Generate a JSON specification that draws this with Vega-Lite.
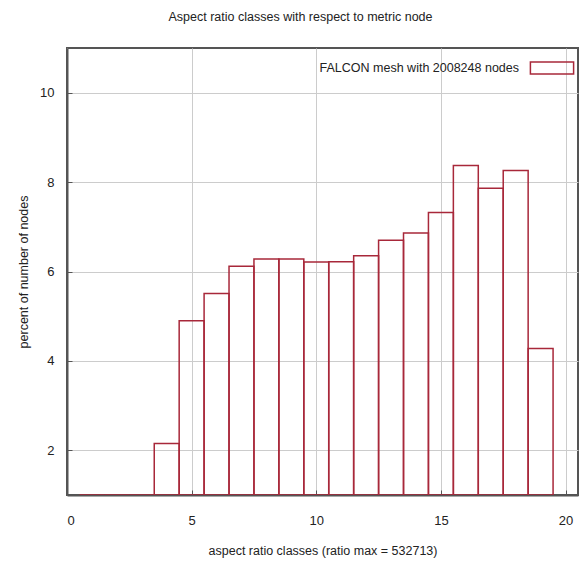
{
  "$schema": "https://vega.github.io/schema/vega-lite/v6.json",
  "width": 511,
  "height": 447,
  "autosize": {"type": "none"},
  "padding": {"left": 67, "top": 48, "right": 6, "bottom": 66},
  "background": "white",
  "title": {
    "text": "Aspect ratio classes with respect to metric node",
    "font": "Liberation Sans",
    "fontSize": 12.5,
    "fontWeight": "normal",
    "color": "#222222",
    "offset": 25,
    "dx": -22
  },
  "data": {
    "values": [
      {"lo": 0.5, "hi": 1.5, "percent": 0.0},
      {"lo": 1.5, "hi": 2.5, "percent": 0.05},
      {"lo": 2.5, "hi": 3.5, "percent": 0.28},
      {"lo": 3.5, "hi": 4.5, "percent": 2.15},
      {"lo": 4.5, "hi": 5.5, "percent": 4.9},
      {"lo": 5.5, "hi": 6.5, "percent": 5.51},
      {"lo": 6.5, "hi": 7.5, "percent": 6.12},
      {"lo": 7.5, "hi": 8.5, "percent": 6.28},
      {"lo": 8.5, "hi": 9.5, "percent": 6.28},
      {"lo": 9.5, "hi": 10.5, "percent": 6.21},
      {"lo": 10.5, "hi": 11.5, "percent": 6.22},
      {"lo": 11.5, "hi": 12.5, "percent": 6.35},
      {"lo": 12.5, "hi": 13.5, "percent": 6.7},
      {"lo": 13.5, "hi": 14.5, "percent": 6.86},
      {"lo": 14.5, "hi": 15.5, "percent": 7.32},
      {"lo": 15.5, "hi": 16.5, "percent": 8.37},
      {"lo": 16.5, "hi": 17.5, "percent": 7.86},
      {"lo": 17.5, "hi": 18.5, "percent": 8.26},
      {"lo": 18.5, "hi": 19.5, "percent": 4.28}
    ]
  },
  "mark": {"type": "bar", "filled": false, "strokeWidth": 1.5, "clip": true},
  "encoding": {
    "x": {
      "field": "lo",
      "type": "quantitative",
      "scale": {"domain": [0, 20.5], "nice": false, "zero": false},
      "axis": {
        "values": [0, 5, 10, 15, 20],
        "title": "aspect ratio classes (ratio max = 532713)",
        "labelPadding": 24,
        "titlePadding": 17
      }
    },
    "x2": {"field": "hi"},
    "y": {
      "field": "percent",
      "type": "quantitative",
      "scale": {"domain": [1, 11], "nice": false, "zero": false, "clamp": true},
      "axis": {
        "values": [2, 4, 6, 8, 10],
        "title": "percent of number of nodes",
        "labelPadding": 18,
        "titlePadding": 9
      }
    },
    "y2": {"datum": 0},
    "color": {
      "datum": "FALCON mesh with 2008248 nodes",
      "scale": {"range": ["#a8283a"]},
      "legend": {
        "title": null,
        "orient": "none",
        "legendX": 474,
        "legendY": 9,
        "symbolType": "M-3.6,-1H3.6V1H-3.6Z",
        "symbolSize": 144,
        "symbolStrokeWidth": 1.5,
        "labelAlign": "right",
        "labelOffset": -40,
        "labelLimit": 0,
        "labelFont": "Liberation Sans",
        "labelFontSize": 12.5,
        "labelColor": "#222222",
        "padding": 4,
        "encode": {
          "symbols": {"update": {"fill": {"value": "#fbd3da"}, "stroke": {"value": "#a8283a"}, "fillOpacity": {"value": 1}}}
        }
      }
    }
  },
  "config": {
    "view": {"stroke": "#555555", "strokeWidth": 2},
    "axis": {
      "grid": true,
      "gridColor": "#cccccc",
      "gridWidth": 1,
      "domainColor": "#555555",
      "domainWidth": 2,
      "tickColor": "#555555",
      "tickSize": -5,
      "labelFont": "Liberation Sans",
      "labelFontSize": 13,
      "labelColor": "#222222",
      "titleFont": "Liberation Sans",
      "titleFontSize": 12.5,
      "titleFontWeight": "normal",
      "titleColor": "#222222"
    }
  }
}
